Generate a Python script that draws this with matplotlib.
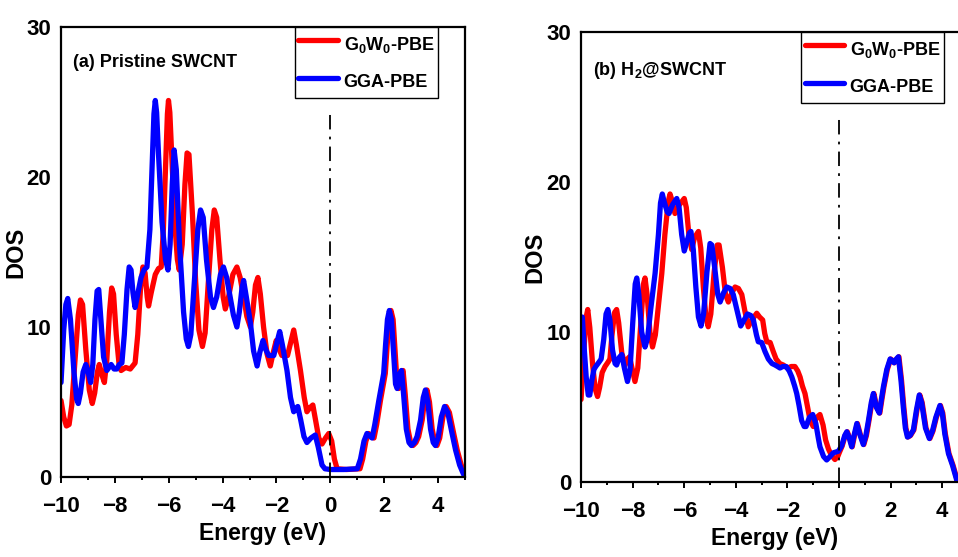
import matplotlib
matplotlib.use('Agg')
import matplotlib.pyplot as plt
import numpy as np
from matplotlib.ticker import MultipleLocator

plt.rcParams['font.family'] = ['Liberation Sans', 'DejaVu Sans']
plt.rcParams['font.weight'] = 'bold'
plt.rcParams['mathtext.fontset'] = 'custom'
plt.rcParams['mathtext.rm'] = 'Liberation Sans:bold'
plt.rcParams['mathtext.bf'] = 'Liberation Sans:bold'

# ---- (a) pristine SWCNT ----
a_gga_e = [-10.0, -9.9, -9.82, -9.75, -9.65, -9.52, -9.42, -9.36, -9.28, -9.18, -9.08, -8.98, -8.9,
           -8.82, -8.74, -8.66, -8.6, -8.52, -8.42, -8.3, -8.22, -8.14, -8.03, -7.93, -7.84, -7.74,
           -7.65, -7.55, -7.47, -7.4, -7.33, -7.25, -7.15, -7.03, -6.92, -6.81, -6.7, -6.62, -6.55,
           -6.5, -6.45, -6.38, -6.25, -6.12, -6.03, -5.95, -5.87, -5.8, -5.72, -5.6, -5.45, -5.35,
           -5.27, -5.18, -5.05, -4.92, -4.82, -4.72, -4.6, -4.45, -4.34, -4.22, -4.08, -3.97, -3.85,
           -3.72, -3.6, -3.47, -3.38, -3.28, -3.22, -3.12, -2.97, -2.85, -2.72, -2.62, -2.5, -2.4,
           -2.29, -2.1, -1.98, -1.88, -1.78, -1.61, -1.48, -1.36, -1.27, -1.21, -1.1, -0.98, -0.87,
           -0.72, -0.56, -0.45, -0.31, -0.2, 0.0, 0.5, 1.0, 1.12, 1.25, 1.36, 1.45, 1.55, 1.65, 1.8,
           1.98, 2.05, 2.12, 2.19, 2.27, 2.35, 2.42, 2.48, 2.55, 2.64, 2.72, 2.82, 2.92, 3.01, 3.12,
           3.22, 3.35, 3.45, 3.53, 3.62, 3.72, 3.82, 3.9, 4.0, 4.12, 4.24, 4.36, 4.52, 4.65, 4.8,
           4.94, 5.0]
a_gga_dos = [6.3, 9.8, 11.5, 11.9, 10.5, 7.0, 5.2, 4.9, 5.6, 7.0, 7.5, 6.9, 6.3,
             7.5, 10.5, 12.4, 12.5, 10.5, 8.0, 7.1, 7.3, 7.5, 7.2, 7.2, 7.5, 7.6,
             9.5, 12.5, 14.0, 13.8, 12.3, 11.3, 12.2, 13.3, 13.8, 14.0, 16.5, 20.5, 24.2,
             25.1, 24.3, 21.5, 17.0, 14.5, 13.8, 15.5, 19.5, 21.8, 20.5, 15.5, 11.0, 9.2,
             8.7, 9.5, 13.0, 16.5, 17.8, 17.3, 14.5, 12.0, 11.3, 12.0, 13.5, 14.0, 13.3,
             12.0, 10.8, 10.0, 11.0, 12.6, 13.1, 12.0, 10.3, 8.4, 7.4, 8.3, 9.1, 8.5,
             8.1, 8.1, 9.0, 9.7, 8.8, 7.1, 5.3, 4.35, 4.6, 4.7, 3.8, 2.7, 2.3,
             2.6, 2.8, 2.0, 0.8, 0.55, 0.5, 0.5, 0.55, 1.2, 2.4, 2.9, 2.75, 2.6, 3.5, 5.1,
             6.9, 8.8, 10.5, 11.1, 10.5, 8.2, 6.2, 5.9, 6.8, 7.1, 5.5, 3.2, 2.3, 2.1, 2.3,
             2.7, 3.8, 5.3, 5.8, 5.0, 3.2, 2.3, 2.1, 2.6, 4.0, 4.7, 4.3, 2.9, 1.8, 0.8,
             0.2, 0.05]

a_gw_e = [-10.0, -9.9, -9.8, -9.7, -9.6, -9.48, -9.36, -9.28, -9.2, -9.08, -8.95, -8.84, -8.75,
          -8.65, -8.58, -8.48, -8.39, -8.3, -8.2, -8.12, -8.05, -7.95, -7.85, -7.77, -7.6, -7.43,
          -7.25, -7.15, -7.05, -6.96, -6.88, -6.8, -6.75, -6.65, -6.5, -6.38, -6.28, -6.2, -6.12,
          -6.05, -6.01, -5.96, -5.89, -5.78, -5.68, -5.61, -5.5, -5.4, -5.32, -5.25, -5.12, -5.0,
          -4.88, -4.75, -4.65, -4.53, -4.4, -4.31, -4.22, -4.1, -3.98, -3.9, -3.78, -3.62, -3.47,
          -3.35, -3.22, -3.1, -2.97, -2.88, -2.78, -2.69, -2.6, -2.48, -2.35, -2.23, -2.12, -2.01,
          -1.9, -1.8, -1.59, -1.47, -1.36, -1.26, -1.11, -0.97, -0.87, -0.77, -0.65, -0.55, -0.43,
          -0.31, -0.18, -0.06, 0.05, 0.15, 0.25, 0.6, 1.1, 1.2, 1.32, 1.42, 1.52, 1.62, 1.72, 1.86,
          2.04, 2.11, 2.18, 2.25, 2.33, 2.41, 2.48, 2.54, 2.61, 2.7, 2.78, 2.88, 2.98, 3.07, 3.18,
          3.28, 3.41, 3.51, 3.59, 3.68, 3.78, 3.88, 3.96, 4.06, 4.18, 4.3, 4.42, 4.58, 4.71, 4.86,
          4.98, 5.0]
a_gw_dos = [5.1, 4.0, 3.4, 3.5, 4.8, 7.8, 10.8, 11.8, 11.5, 8.5, 5.8, 4.9, 5.6,
            7.0, 7.5, 6.8, 6.3, 7.8, 11.0, 12.6, 12.2, 9.5, 7.6, 7.1, 7.3, 7.2,
            7.6, 9.5, 12.5, 14.0, 13.6, 12.0, 11.4, 12.3, 13.5, 13.9, 14.0, 16.5, 20.5,
            24.2, 25.1, 24.3, 21.5, 17.0, 14.5, 13.8, 15.5, 19.5, 21.6, 21.5, 17.5, 13.0,
            9.8, 8.7, 9.6, 13.0, 16.5, 17.8, 17.3, 14.5, 12.0, 11.2, 12.0, 13.5, 14.0,
            13.3, 12.0, 10.7, 10.0, 11.0, 12.8, 13.3, 12.2, 10.0, 8.2, 7.4, 8.3, 9.1,
            8.5, 8.1, 8.1, 9.0, 9.8, 8.8, 7.1, 5.3, 4.35, 4.6, 4.8, 3.8, 2.6,
            2.2, 2.6, 2.9, 2.4, 1.2, 0.55, 0.5, 0.55, 1.2, 2.4, 2.9, 2.75, 2.6, 3.5, 5.1,
            6.9, 8.8, 10.5, 11.1, 10.5, 8.2, 6.2, 5.9, 6.8, 7.1, 5.5, 3.2, 2.3, 2.1, 2.3,
            2.7, 3.8, 5.3, 5.8, 5.0, 3.2, 2.3, 2.1, 2.6, 4.0, 4.7, 4.3, 2.9, 1.8, 0.8,
            0.2, 0.1]

# ---- (b) H2@SWCNT ----
b_gga_e = [-10.0, -9.95, -9.88, -9.8, -9.72, -9.66, -9.58, -9.5, -9.43, -9.3, -9.22, -9.12, -9.03,
           -8.96, -8.88, -8.78, -8.68, -8.62, -8.52, -8.42, -8.32, -8.2, -8.1, -8.0, -7.9, -7.84,
           -7.76, -7.65, -7.52, -7.42, -7.3, -7.13, -7.0, -6.92, -6.85, -6.78, -6.66, -6.59, -6.45,
           -6.29, -6.2, -6.1, -6.0, -5.9, -5.8, -5.74, -5.65, -5.55, -5.45, -5.35, -5.25, -5.12,
           -5.0, -4.93, -4.82, -4.7, -4.61, -4.48, -4.35, -4.22, -4.1, -3.95, -3.81, -3.68, -3.55,
           -3.42, -3.32, -3.2, -3.13, -3.0, -2.87, -2.74, -2.6, -2.48, -2.38, -2.29, -2.18, -2.05,
           -1.93, -1.83, -1.72, -1.64, -1.55, -1.45, -1.35, -1.28, -1.15, -1.02, -0.9, -0.8, -0.74,
           -0.6, -0.48, -0.35, -0.22, -0.03, 0.1, 0.22, 0.3, 0.4, 0.49, 0.58, 0.69, 0.8, 0.94,
           1.04, 1.14, 1.25, 1.33, 1.44, 1.56, 1.64, 1.72, 1.85, 1.98, 2.06, 2.13, 2.22, 2.3, 2.4,
           2.49, 2.57, 2.65, 2.75, 2.88, 3.0, 3.11, 3.2, 3.35, 3.5, 3.62, 3.75, 3.91, 4.0, 4.1,
           4.24, 4.4, 4.56, 4.65]
b_gga_dos = [10.5, 11.0, 9.0, 7.0, 5.8, 5.8, 6.8, 7.5, 7.7, 8.0, 8.2, 9.5, 11.2,
             11.5, 10.8, 8.8, 7.9, 7.8, 8.3, 8.5, 7.6, 6.7, 7.5, 10.5, 13.2, 13.6,
             12.5, 10.0, 9.0, 9.6, 11.5, 13.9, 16.5, 18.6, 19.2, 18.7, 18.0, 17.9, 18.5,
             18.9, 18.3, 16.5, 15.4, 16.0, 16.6, 16.7, 15.5, 13.0, 11.0, 10.4, 11.2, 14.0,
             15.9, 15.8, 14.3, 12.5, 12.0, 12.6, 13.0, 12.9, 12.5, 11.4, 10.4, 10.8, 11.2,
             11.1, 10.8, 9.8, 9.35, 9.3, 8.7, 8.2, 7.9, 7.8, 7.7, 7.6, 7.7, 7.7,
             7.4, 7.0, 6.4, 5.9, 5.1, 4.1, 3.7, 3.7, 4.3, 4.5, 3.9, 2.9, 2.35,
             1.7, 1.47, 1.7, 1.95, 2.05, 2.4, 3.1, 3.35, 2.9, 2.35, 3.1, 3.9, 3.2, 2.5,
             3.1, 4.1, 5.3, 5.9, 5.0, 4.6, 5.5, 6.35, 7.5, 8.2, 8.1, 7.95, 8.2, 8.35, 6.8,
             5.0, 3.6, 3.0, 3.1, 3.47, 4.8, 5.8, 5.3, 3.6, 2.9, 3.4, 4.3, 5.1, 4.6, 3.2,
             1.9, 1.1, 0.13, 0.0]

b_gw_e = [-10.0, -9.9, -9.8, -9.74, -9.66, -9.55, -9.45, -9.36, -9.28, -9.18, -9.07, -8.95, -8.88,
          -8.8, -8.7, -8.62, -8.54, -8.42, -8.29, -8.2, -8.12, -8.0, -7.91, -7.8, -7.68, -7.58,
          -7.52, -7.44, -7.33, -7.23, -7.12, -7.0, -6.87, -6.75, -6.62, -6.55, -6.48, -6.36, -6.22,
          -6.0, -5.92, -5.82, -5.71, -5.6, -5.45, -5.36, -5.26, -5.16, -5.07, -4.97, -4.84, -4.72,
          -4.65, -4.52, -4.4, -4.29, -4.16, -4.03, -3.9, -3.77, -3.65, -3.52, -3.38, -3.19, -3.08,
          -2.96, -2.88, -2.8, -2.67, -2.55, -2.44, -2.3, -2.16, -2.0, -1.85, -1.71, -1.6, -1.51,
          -1.42, -1.32, -1.22, -1.12, -1.0, -0.87, -0.74, -0.62, -0.52, -0.41, -0.3, -0.16, -0.05,
          0.02, 0.12, 0.24, 0.32, 0.42, 0.51, 0.6, 0.71, 0.82, 0.96, 1.06, 1.16, 1.27, 1.35, 1.46,
          1.58, 1.66, 1.74, 1.87, 2.0, 2.08, 2.15, 2.24, 2.32, 2.42, 2.51, 2.59, 2.67, 2.77, 2.9,
          3.02, 3.13, 3.22, 3.37, 3.52, 3.64, 3.77, 3.93, 4.02, 4.12, 4.26, 4.42, 4.58, 4.67]
b_gw_dos = [5.5, 8.5, 11.0, 11.5, 10.3, 7.8, 6.2, 5.7, 6.3, 7.3, 7.7, 8.0, 8.2,
            9.8, 11.3, 11.5, 10.6, 8.6, 7.8, 8.2, 8.35, 7.4, 6.7, 7.6, 10.7, 13.2,
            13.6, 12.5, 10.0, 9.0, 9.8, 11.8, 13.9, 16.5, 18.7, 19.2, 18.8, 17.9, 18.4,
            18.9, 18.3, 16.5, 15.5, 16.3, 16.7, 15.6, 13.0, 11.0, 10.35, 11.2, 14.0, 15.8,
            15.8, 14.3, 12.5, 12.0, 12.6, 13.0, 12.9, 12.5, 11.4, 10.35, 10.8, 11.25, 11.0,
            10.8, 9.9, 9.35, 9.3, 8.7, 8.2, 7.9, 7.8, 7.6, 7.7, 7.7, 7.4, 7.0,
            6.4, 5.9, 5.0, 4.1, 3.7, 4.3, 4.5, 3.8, 2.8, 2.2, 1.8, 1.5, 1.7,
            2.0, 2.4, 3.1, 3.35, 2.9, 2.35, 3.1, 3.9, 3.2, 2.5, 3.1, 4.1, 5.3, 5.9, 5.0,
            4.6, 5.5, 6.35, 7.5, 8.2, 8.1, 7.95, 8.2, 8.35, 6.8, 5.0, 3.6, 3.0, 3.1, 3.47,
            4.8, 5.8, 5.3, 3.6, 2.9, 3.4, 4.3, 5.1, 4.6, 3.2, 1.9, 1.1, 0.13, 0.0]

panels = [
    dict(pos=[0.0637, 0.1436, 0.4217, 0.808], title='(a) Pristine SWCNT', title_y=0.92,
         gw=(a_gw_e, a_gw_dos), gga=(a_gga_e, a_gga_dos), ylab_x=-0.084, leg_x=0.933),
    dict(pos=[0.6065, 0.1346, 0.404, 0.808], title='(b) H$_2$@SWCNT', title_y=0.915,
         gw=(b_gw_e, b_gw_dos), gga=(b_gga_e, b_gga_dos), ylab_x=-0.09, leg_x=0.938),
]

fig = plt.figure(figsize=(9.58, 5.57), dpi=100)

for p in panels:
    ax = fig.add_axes(p['pos'])
    ax.plot(p['gw'][0], p['gw'][1], color='#ff0000', lw=3.8, solid_joinstyle='round',
            solid_capstyle='round', label='G$_0$W$_0$-PBE')
    ax.plot(p['gga'][0], p['gga'][1], color='#0000ff', lw=3.8, solid_joinstyle='round',
            solid_capstyle='round', label='GGA-PBE')
    ax.axvline(0, ymin=0, ymax=0.81, color='black', lw=1.3, linestyle=(0, (8, 4, 1.5, 4)))

    ax.set_xlim(-10, 5)
    ax.set_ylim(0, 30)
    ax.set_xticks(range(-10, 5, 2))
    ax.xaxis.set_minor_locator(MultipleLocator(1))
    ax.set_yticks([0, 10, 20, 30])
    ax.tick_params(axis='x', which='major', direction='out', length=4.5, width=1.4,
                   labelsize=16, pad=9)
    ax.tick_params(axis='x', which='minor', direction='out', length=2.5, width=1.4)
    ax.tick_params(axis='y', length=0, labelsize=16, pad=7)
    for s in ax.spines.values():
        s.set_linewidth(1.6)

    ax.set_xlabel('Energy (eV)', fontsize=16.5, fontweight='bold', labelpad=4)
    ax.set_ylabel('DOS', fontsize=17, fontweight='bold')
    ax.yaxis.set_label_coords(p['ylab_x'], 0.5)

    ax.text(0.03, p['title_y'], p['title'], transform=ax.transAxes, fontsize=13,
            fontweight='bold', va='center', ha='left')

    leg = ax.legend(loc='upper right', bbox_to_anchor=(p['leg_x'], 1.0), fontsize=13,
                    handlelength=2.2, handleheight=1.9, handletextpad=0.3, borderpad=0.2,
                    labelspacing=0.6, fancybox=False, framealpha=1, borderaxespad=0)
    leg.get_frame().set_edgecolor('black')
    leg.get_frame().set_linewidth(1.0)

fig.savefig('out.png', dpi=100)
